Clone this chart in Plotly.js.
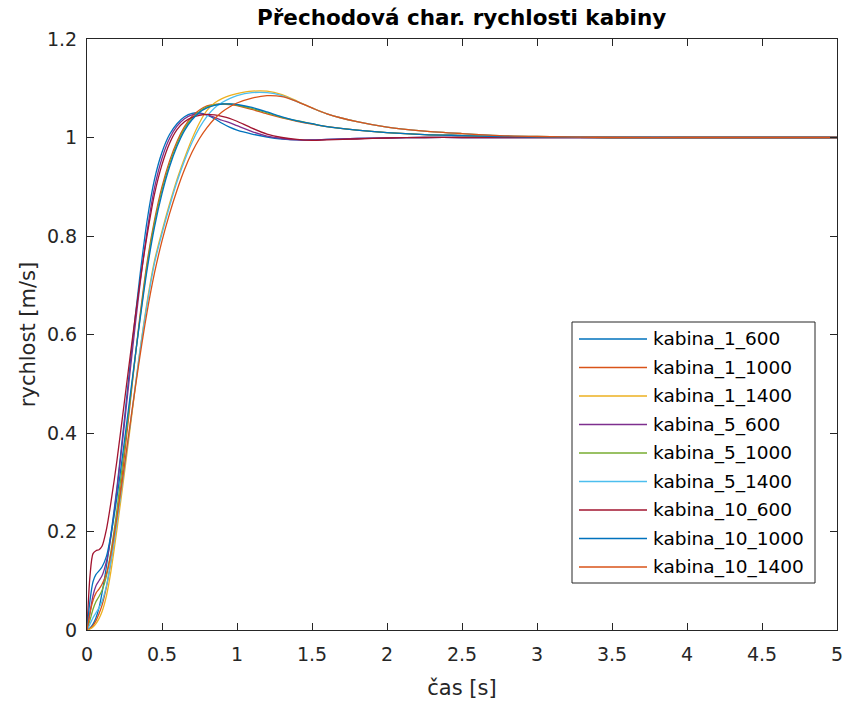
<!DOCTYPE html>
<html>
<head>
<meta charset="utf-8">
<script src="https://cdn.plot.ly/plotly-3.0.1.min.js"></script>
<style>html,body{margin:0;padding:0;background:#fff;}#chart{width:847px;height:706px;}</style>
</head>
<body>
<div id="chart"></div>
<script>
// time axis [s]
const t = [0, 0.02, 0.04, 0.06, 0.08, 0.1, 0.13, 0.16, 0.2, 0.25, 0.3, 0.35, 0.4, 0.45, 0.5, 0.55, 0.6, 0.65, 0.7, 0.75, 0.8, 0.85, 0.9, 0.95, 1.0, 1.1, 1.2, 1.3, 1.4, 1.5, 1.6, 1.8, 2.0, 2.25, 2.5, 2.75, 3.0, 3.5, 4.0, 5.0];

const seriesNames = ['kabina_1_600','kabina_1_1000','kabina_1_1400','kabina_5_600','kabina_5_1000','kabina_5_1400','kabina_10_600','kabina_10_1000','kabina_10_1400'];

const kabina_1_600 = [0,0.004,0.012,0.025,0.045,0.075,0.13,0.195,0.29,0.43,0.575,0.712,0.83,0.915,0.97,1.006,1.028,1.042,1.049,1.05,1.046,1.038,1.029,1.021,1.015,1.007,1.001,0.997,0.995,0.995,0.996,0.998,0.999,1.0,1.0,1.0,1.0,1.0,1.0,1.0];
const kabina_1_1000 = [0,0.003,0.009,0.019,0.033,0.05,0.088,0.14,0.225,0.355,0.495,0.63,0.745,0.832,0.9,0.952,0.992,1.022,1.043,1.056,1.064,1.067,1.068,1.067,1.065,1.057,1.048,1.04,1.033,1.027,1.022,1.015,1.01,1.006,1.004,1.002,1.001,1.0,1.0,1.0];
const kabina_1_1400 = [0,0.002,0.006,0.013,0.023,0.037,0.07,0.12,0.205,0.32,0.44,0.56,0.665,0.75,0.81,0.865,0.915,0.958,0.997,1.03,1.055,1.07,1.079,1.085,1.089,1.094,1.094,1.087,1.074,1.06,1.048,1.032,1.021,1.013,1.008,1.004,1.002,1.0,1.0,1.0];
const kabina_5_600 = [0,0.035,0.07,0.09,0.1,0.11,0.14,0.19,0.285,0.42,0.56,0.693,0.808,0.898,0.958,0.998,1.023,1.038,1.046,1.048,1.046,1.041,1.035,1.03,1.024,1.012,1.003,0.998,0.995,0.995,0.996,0.998,0.999,1.0,1.0,1.0,1.0,1.0,1.0,1.0];
const kabina_5_1000 = [0,0.02,0.042,0.058,0.068,0.08,0.11,0.16,0.245,0.37,0.5,0.625,0.738,0.826,0.893,0.946,0.987,1.018,1.039,1.053,1.062,1.066,1.068,1.068,1.066,1.059,1.05,1.041,1.034,1.028,1.022,1.015,1.01,1.006,1.004,1.002,1.001,1.0,1.0,1.0];
const kabina_5_1400 = [0,0.012,0.025,0.035,0.045,0.058,0.09,0.14,0.22,0.33,0.445,0.56,0.66,0.745,0.805,0.86,0.91,0.953,0.99,1.02,1.043,1.06,1.071,1.079,1.085,1.091,1.091,1.085,1.073,1.06,1.048,1.032,1.021,1.013,1.008,1.004,1.002,1.0,1.0,1.0];
const kabina_10_600 = [0,0.11,0.155,0.161,0.163,0.17,0.205,0.26,0.345,0.465,0.585,0.7,0.8,0.885,0.945,0.988,1.016,1.032,1.041,1.045,1.047,1.046,1.043,1.039,1.033,1.019,1.007,1.0,0.996,0.994,0.995,0.997,0.999,1.0,1.0,1.0,1.0,1.0,1.0,1.0];
const kabina_10_1000 = [0,0.06,0.098,0.113,0.12,0.128,0.15,0.195,0.27,0.385,0.505,0.622,0.73,0.818,0.886,0.94,0.982,1.014,1.036,1.051,1.06,1.065,1.068,1.068,1.067,1.061,1.052,1.042,1.034,1.028,1.022,1.015,1.01,1.006,1.004,1.002,1.001,1.0,1.0,1.0];
const kabina_10_1400 = [0,0.035,0.06,0.075,0.083,0.093,0.115,0.155,0.23,0.335,0.445,0.55,0.645,0.725,0.79,0.845,0.893,0.935,0.97,0.998,1.02,1.038,1.052,1.062,1.07,1.08,1.085,1.083,1.073,1.06,1.048,1.032,1.021,1.013,1.008,1.004,1.002,1.0,1.0,1.0];

const seriesValues = [kabina_1_600, kabina_1_1000, kabina_1_1400, kabina_5_600, kabina_5_1000, kabina_5_1400, kabina_10_600, kabina_10_1000, kabina_10_1400];
const colors = ['#0072BD','#D95319','#EDB120','#7E2F8E','#77AC30','#4DBEEE','#A2142F','#0072BD','#D95319'];

const FONT = 'DejaVu Sans, Liberation Sans, Arial, sans-serif';
const INK = '#262626';

const traces = seriesNames.map((name, i) => ({
  x: t,
  y: seriesValues[i],
  name: name,
  type: 'scatter',
  mode: 'lines',
  showlegend: false,
  line: {color: colors[i], width: 1.3, shape: 'spline', smoothing: 0.8}
}));

// Legend box (MATLAB style, long line samples), placed in paper coordinates
const plotL = 87, plotR = 837, plotT = 39, plotB = 630;
const px2x = p => (p - plotL) / (plotR - plotL);
const py2y = p => (plotB - p) / (plotB - plotT);
const legL = 572, legR = 815, legT = 322, legB = 583;
const rowY0 = 339, rowStep = 28.5;

const shapes = [{
  type: 'rect', xref: 'paper', yref: 'paper',
  x0: px2x(legL), x1: px2x(legR), y0: py2y(legB), y1: py2y(legT),
  line: {color: INK, width: 1}, fillcolor: '#ffffff', layer: 'above'
}];
const annotations = [];
seriesNames.forEach((name, i) => {
  const yy = py2y(rowY0 + i * rowStep);
  shapes.push({
    type: 'line', xref: 'paper', yref: 'paper',
    x0: px2x(579), x1: px2x(647), y0: yy, y1: yy,
    line: {color: colors[i], width: 1.3}, layer: 'above'
  });
  annotations.push({
    xref: 'paper', yref: 'paper', x: px2x(651), y: yy,
    xanchor: 'left', yanchor: 'middle', showarrow: false,
    text: name, font: {family: FONT, size: 18.5, color: '#000'}
  });
});

const axisCommon = {
  showgrid: false,
  zeroline: false,
  showline: true,
  linecolor: INK,
  linewidth: 1,
  mirror: 'ticks',
  ticks: 'inside',
  ticklen: 7,
  tickwidth: 1,
  tickcolor: INK,
  tickfont: {family: FONT, size: 19, color: INK}
};

const layout = {
  width: 847,
  height: 706,
  paper_bgcolor: '#ffffff',
  plot_bgcolor: '#ffffff',
  margin: {l: 87, r: 10, t: 39, b: 76},
  title: {
    text: '<b>Přechodová char. rychlosti kabiny</b>',
    font: {family: FONT, size: 21.5, color: '#000'},
    x: 0.545, xanchor: 'center', y: 0.975, yanchor: 'middle'
  },
  xaxis: Object.assign({}, axisCommon, {
    range: [0, 5],
    tickvals: [0, 0.5, 1, 1.5, 2, 2.5, 3, 3.5, 4, 4.5, 5],
    ticktext: ['0', '0.5', '1', '1.5', '2', '2.5', '3', '3.5', '4', '4.5', '5'],
    ticklabelstandoff: 7,
    title: {text: 'čas [s]', font: {family: FONT, size: 21, color: INK}, standoff: 16}
  }),
  yaxis: Object.assign({}, axisCommon, {
    range: [0, 1.2],
    tickvals: [0, 0.2, 0.4, 0.6, 0.8, 1, 1.2],
    ticktext: ['0', '0.2', '0.4', '0.6', '0.8', '1', '1.2'],
    ticklabelstandoff: 5,
    title: {text: 'rychlost [m/s]', font: {family: FONT, size: 21, color: INK}, standoff: 5}
  }),
  showlegend: false,
  shapes: shapes,
  annotations: annotations
};

Plotly.newPlot('chart', traces, layout, {displayModeBar: false, staticPlot: true});
</script>
</body>
</html>
